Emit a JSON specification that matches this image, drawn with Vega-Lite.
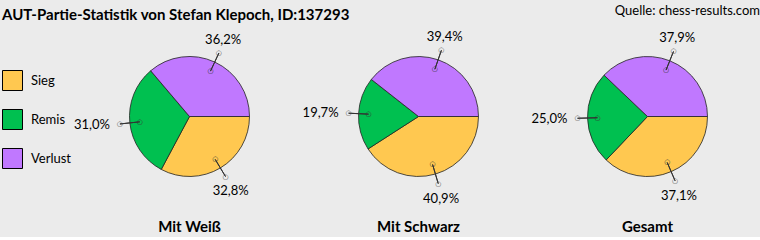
{
  "$schema": "https://vega.github.io/schema/vega-lite/v6.json",
  "background": "#EBEBEB",
  "padding": {"left": 2, "top": 5, "right": 4, "bottom": 2},
  "config": {
    "locale": {"number": {"decimal": ",", "thousands": ".", "grouping": [3], "currency": ["", " €"]}},
    "view": {"stroke": null},
    "font": "Lato"
  },
  "title": {
    "text": "AUT-Partie-Statistik von Stefan Klepoch, ID:137293",
    "anchor": "start",
    "frame": "bounds",
    "font": "Lato",
    "fontSize": 15,
    "fontWeight": "bold",
    "color": "#000000",
    "offset": -18
  },
  "data": {
    "values": [
      {"chart": "Mit Weiß", "result": "Sieg", "order": 1, "share": 0.328},
      {"chart": "Mit Weiß", "result": "Remis", "order": 2, "share": 0.310},
      {"chart": "Mit Weiß", "result": "Verlust", "order": 3, "share": 0.362},
      {"chart": "Mit Schwarz", "result": "Sieg", "order": 1, "share": 0.409},
      {"chart": "Mit Schwarz", "result": "Remis", "order": 2, "share": 0.197},
      {"chart": "Mit Schwarz", "result": "Verlust", "order": 3, "share": 0.394},
      {"chart": "Gesamt", "result": "Sieg", "order": 1, "share": 0.371},
      {"chart": "Gesamt", "result": "Remis", "order": 2, "share": 0.250},
      {"chart": "Gesamt", "result": "Verlust", "order": 3, "share": 0.379}
    ]
  },
  "facet": {
    "column": {
      "field": "chart",
      "type": "nominal",
      "sort": ["Mit Weiß", "Mit Schwarz", "Gesamt"],
      "title": "Quelle: chess-results.com",
      "header": {
        "labelOrient": "bottom",
        "titleOrient": "top",
        "titleAnchor": "end",
        "labelFont": "Lato",
        "labelFontSize": 15,
        "labelFontWeight": "bold",
        "labelColor": "#000000",
        "labelPadding": 13,
        "titleFont": "Lato",
        "titleFontSize": 13,
        "titleFontWeight": "normal",
        "titleColor": "#000000",
        "titlePadding": -2
      }
    }
  },
  "spacing": 0,
  "spec": {
    "width": 225,
    "height": 181,
    "encoding": {
      "theta": {"field": "share", "type": "quantitative", "stack": true, "scale": {"domain": [0, 1], "range": [1.5708, 7.854]}},
      "order": {"field": "order", "type": "quantitative"}
    },
    "layer": [
      {
        "mark": {"type": "arc", "outerRadius": 60, "stroke": "#222222", "strokeWidth": 0.8},
        "encoding": {
          "color": {
            "field": "result",
            "type": "nominal",
            "scale": {"domain": ["Sieg", "Remis", "Verlust"], "range": ["#FFC850", "#00C050", "#C078FF"]},
            "legend": {
              "title": null,
              "orient": "none",
              "legendX": -75,
              "legendY": 44,
              "symbolType": "square",
              "symbolSize": 400,
              "symbolStrokeColor": "#000000",
              "symbolStrokeWidth": 1,
              "symbolOpacity": 1,
              "labelFont": "Lato",
              "labelFontSize": 13,
              "labelColor": "#000000",
              "labelOffset": 8,
              "rowPadding": 14
            }
          }
        }
      },
      {
        "mark": {"type": "arc", "innerRadius": 50, "outerRadius": 70, "padAngle": 3, "fillOpacity": 0, "stroke": "#333333", "strokeWidth": 1},
        "encoding": {"detail": {"field": "result"}}
      },
      {
        "mark": {"type": "text", "text": "○", "radius": 50, "font": "DejaVu Sans", "fontSize": 7, "color": "#333333", "baseline": "middle", "align": "center"},
        "encoding": {"detail": {"field": "result"}}
      },
      {
        "mark": {"type": "text", "text": "○", "radius": 70, "font": "DejaVu Sans", "fontSize": 7, "color": "#555555", "baseline": "middle", "align": "center"},
        "encoding": {"detail": {"field": "result"}}
      },
      {
        "mark": {
          "type": "text",
          "radius": 80,
          "font": "Lato",
          "fontSize": 13,
          "color": "#000000",
          "align": {"expr": "datum.result === 'Remis' ? 'right' : 'center'"},
          "baseline": {"expr": "datum.result === 'Verlust' ? 'alphabetic' : datum.result === 'Sieg' ? 'top' : 'middle'"}
        },
        "encoding": {
          "detail": {"field": "result"},
          "text": {"field": "share", "type": "quantitative", "format": ".1%"}
        }
      }
    ]
  }
}
